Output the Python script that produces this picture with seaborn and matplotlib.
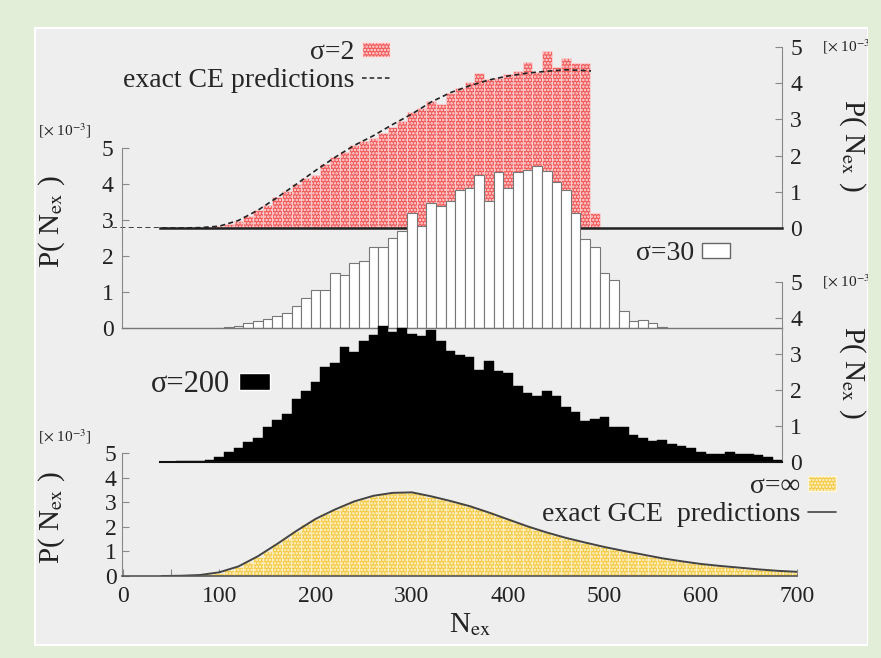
import matplotlib
matplotlib.use("Agg")
import matplotlib.pyplot as plt
import seaborn as sns
from matplotlib.patches import Patch, Rectangle
from matplotlib.lines import Line2D

# P(N_ex) in units of 1e-3, histogram bins of width 10 (bin centres)
red_n = list(range(40, 500, 10))
red_p = [0.0, 0.0, 0.0, 0.01, 0.01, 0.03, 0.06, 0.11, 0.2, 0.33,
         0.5, 0.64, 0.85, 1.02, 1.22, 1.38, 1.47, 1.78, 1.95, 2.1,
         2.3, 2.4, 2.5, 2.62, 2.8, 2.95, 3.2, 3.32, 3.5, 3.42,
         3.73, 3.86, 4.04, 4.27, 4.12, 4.15, 4.25, 4.34, 4.59, 4.3,
         4.9, 4.44, 4.69, 4.56, 4.56, 0.41]
ce_n = [-20, 40, 60, 80, 100, 120, 140, 160, 180, 200, 220, 240, 260, 280,
        300, 320, 340, 360, 380, 400, 420, 440, 460, 480, 486]
ce_p = [0.0, 0.0, 0.0, 0.01, 0.05, 0.21, 0.49, 0.84, 1.21, 1.59, 1.95, 2.28, 2.55, 2.86,
        3.15, 3.48, 3.74, 3.93, 4.09, 4.2, 4.28, 4.33, 4.37, 4.35, 4.34]

white_n = list(range(100, 570, 10))
white_p = [0.01, 0.02, 0.05,
           0.15, 0.2, 0.25, 0.34, 0.41, 0.62, 0.84, 1.05, 1.05, 1.54,
           1.47, 1.8, 1.87, 2.26, 2.24, 2.51, 2.69, 3.2, 2.83, 3.48,
           3.39, 3.54, 3.83, 3.9, 4.25, 3.54, 4.32, 3.9, 4.32, 4.39,
           4.5, 4.37, 4.05, 3.83, 3.19, 2.46, 2.24, 1.54, 1.33, 0.48,
           0.2, 0.22, 0.14, 0.03]

black_n = list(range(40, 690, 10))
black_p = [0.005, 0.01, 0.015, 0.02, 0.04, 0.05, 0.13, 0.27, 0.38, 0.56,
           0.66, 0.98, 1.17, 1.33, 1.75, 1.97, 2.23, 2.65, 2.74, 3.19,
           3.05, 3.37, 3.53, 3.78, 3.62, 3.71, 3.56, 3.5, 3.67, 3.37,
           3.09, 2.97, 2.93, 2.56, 2.81, 2.54, 2.46, 2.11, 1.91, 1.83,
           1.98, 1.83, 1.52, 1.4, 1.15, 1.19, 1.26, 0.96, 0.96, 0.75,
           0.66, 0.58, 0.61, 0.5, 0.44, 0.38, 0.29, 0.22, 0.22, 0.29,
           0.21, 0.21, 0.19, 0.13, 0.06]

yellow_n = list(range(40, 710, 10))
yellow_p = [0.0, 0.0, 0.01, 0.02, 0.04, 0.07, 0.14, 0.25, 0.38, 0.55,
            0.79, 1.03, 1.29, 1.55, 1.83, 2.1, 2.31, 2.51, 2.7, 2.87,
            3.03, 3.15, 3.26, 3.33, 3.37, 3.4, 3.4, 3.32, 3.23, 3.14,
            3.05, 2.95, 2.84, 2.73, 2.59, 2.44, 2.3, 2.16, 2.02, 1.88,
            1.77, 1.66, 1.55, 1.45, 1.35, 1.27, 1.18, 1.1, 1.02, 0.94,
            0.86, 0.79, 0.72, 0.66, 0.6, 0.54, 0.49, 0.45, 0.41, 0.38,
            0.34, 0.3, 0.27, 0.24, 0.21, 0.19, 0.17]
gce_n = [40, 60, 80, 100, 120, 140, 160, 180, 200, 220, 240, 260, 280, 300,
         320, 340, 360, 380, 400, 420, 440, 460, 480, 500, 520, 540, 560,
         580, 600, 620, 640, 660, 680, 700]
gce_p = [0.0, 0.01, 0.04, 0.15, 0.39, 0.8, 1.3, 1.83, 2.32, 2.7, 3.03, 3.26, 3.38, 3.4,
         3.24, 3.05, 2.84, 2.58, 2.3, 2.02, 1.77, 1.55, 1.36, 1.18, 1.02, 0.87, 0.72,
         0.6, 0.49, 0.41, 0.34, 0.27, 0.21, 0.17]

RED, YELLOW, GREEN, PANEL = "#f25a5a", "#f5cb45", "#e3eed8", "#eeeeee"
TXT = "#222222"

sns.set_style("ticks")
plt.rcParams["font.family"] = ["Liberation Serif", "DejaVu Serif"]
plt.rcParams["mathtext.fontset"] = "stix"
plt.rcParams["hatch.linewidth"] = 1.2

W, H = 881, 658
X0, K = 123, 0.963  # pixel of N=0, pixels per unit of N

fig = plt.figure(figsize=(W / 100, H / 100), dpi=100)
fig.patch.set_facecolor(GREEN)
fig.add_artist(Rectangle((35 / W, 1 - 645 / H), 833 / W, 617 / H, transform=fig.transFigure,
                         facecolor=PANEL, edgecolor="white", lw=1.5, zorder=-5))


def edges(centres):
    return [c - 5 for c in centres] + [centres[-1] + 5]


def panel(left, top, right, bottom, z):
    ax = fig.add_axes([left / W, 1 - bottom / H, (right - left) / W, (bottom - top) / H])
    ax.set_facecolor("none")
    ax.set_zorder(z)
    return ax


def finish(ax, left, right, side=None, base="#777777", base_lw=1.0, xb=None):
    ax.set_xlim((left - X0) / K, (right - X0) / K)
    ax.set_ylim(0, 5)
    ax.set_xlabel("")
    ax.set_ylabel("")
    for s in ax.spines.values():
        s.set_visible(False)
    ax.spines["bottom"].set_visible(True)
    ax.spines["bottom"].set_color(base)
    ax.spines["bottom"].set_linewidth(base_lw)
    if xb is not None:
        ax.spines["bottom"].set_bounds(*xb)
    ax.set_xticks([])
    if side is None:
        ax.set_yticks([])
        return
    ax.spines[side].set_visible(True)
    ax.spines[side].set_color("#888888")
    ax.spines[side].set_linewidth(0.8)
    ax.set_yticks(range(6))
    if side == "right":
        ax.yaxis.tick_right()
    else:
        ax.yaxis.tick_left()
    ax.tick_params(axis="y", direction="in", length=5, width=0.8, color="#888888",
                   labelsize=17, pad=6, labelcolor=TXT)


# sigma = 2 (red) with exact CE curve
ax1 = panel(100, 47, 782, 228, 1)
sns.histplot(x=red_n, weights=red_p, bins=edges(red_n), ax=ax1, color=RED,
             edgecolor="#ffe4e4", linewidth=0.4, hatch=".....", alpha=1)
sns.lineplot(x=ce_n, y=ce_p, ax=ax1, color="#222222", linestyle=(0, (3, 2)), linewidth=1.2)
finish(ax1, 100, 782, "right", base="#222222", base_lw=1.8, xb=((160 - X0) / K, (782 - X0) / K))

# sigma = 30 (white)
ax2 = panel(122, 148, 782, 328, 2)
sns.histplot(x=white_n, weights=white_p, bins=edges(white_n), ax=ax2, color="white",
             edgecolor="#777777", linewidth=0.8, alpha=1)
finish(ax2, 122, 782, "left")

# sigma = 200 (black)
ax3 = panel(160, 282, 782, 462, 3)
sns.histplot(x=black_n, weights=black_p, bins=edges(black_n), ax=ax3, color="black",
             edgecolor="black", linewidth=0.3, alpha=1)
finish(ax3, 160, 782, "right", base="#111111", base_lw=1.5)

# sigma = infinity (yellow) with exact GCE curve
ax4 = panel(122, 453, 797, 576, 4)
sns.histplot(x=yellow_n, weights=yellow_p, bins=edges(yellow_n), ax=ax4, color=YELLOW,
             edgecolor="#fff6dc", linewidth=0.4, hatch=".....", alpha=1)
sns.lineplot(x=gce_n, y=gce_p, ax=ax4, color="#444444", linewidth=1.4)
finish(ax4, 122, 797, "left", base="#555555", base_lw=1.2)
ax4.set_xlim(-1, 700)
ax4.set_xticks(range(0, 701, 100))
ax4.set_xticks(range(50, 700, 100), minor=True)
ax4.tick_params(axis="x", which="both", direction="in", length=5, width=0.8, color="#888888",
                labelsize=17, pad=7, labelcolor=TXT)
ax4.tick_params(axis="y", pad=4)

# legends (text first, sample after)
leg_kw = dict(frameon=False, markerfirst=False, fontsize=20, handlelength=1.0,
              handleheight=0.45, handletextpad=0.3, labelspacing=0.1,
              borderpad=0, borderaxespad=0, bbox_transform=fig.transFigure)
l1 = ax1.legend([Patch(facecolor=RED, edgecolor="#ffe4e4", hatch="....."),
                 Line2D([], [], color="#222222", ls=(0, (3, 2)), lw=1.1)],
                ["σ=2", "exact CE predictions"], loc="upper right",
                bbox_to_anchor=(390 / W, 1 - 40 / H), **leg_kw)
l2 = ax2.legend([Patch(facecolor="white", edgecolor="#666666")], ["σ=30"],
                loc="center right", bbox_to_anchor=(730 / W, 1 - 254 / H), **leg_kw)
l3 = ax3.legend([Patch(facecolor="black")], ["σ=200"],
                loc="center right", bbox_to_anchor=(270 / W, 1 - 385 / H),
                **{**leg_kw, "fontsize": 22})
l4 = ax4.legend([Patch(facecolor=YELLOW, edgecolor="#fff6dc", hatch="....."),
                 Line2D([], [], color="#444444", lw=1.2)],
                ["σ=∞", "exact GCE  predictions"], loc="upper right",
                bbox_to_anchor=(836 / W, 1 - 474 / H), **leg_kw)

# axis titles and scale notes
ylab = r"P( N$_{\mathrm{ex}}$ )"
fig.text(52 / W, 1 - 222 / H, ylab, rotation=90, ha="center", va="center", fontsize=21, color=TXT)
fig.text(52 / W, 1 - 518 / H, ylab, rotation=90, ha="center", va="center", fontsize=21, color=TXT)
fig.text(852 / W, 1 - 145 / H, ylab, rotation=-90, ha="center", va="center", fontsize=21, color=TXT)
fig.text(852 / W, 1 - 372 / H, ylab, rotation=-90, ha="center", va="center", fontsize=21, color=TXT)
note = r"[$\times$ 10$^{-3}$]"
fig.text(38 / W, 1 - 131 / H, note, ha="left", va="center", fontsize=11, color=TXT)
fig.text(38 / W, 1 - 437 / H, note, ha="left", va="center", fontsize=11, color=TXT)
fig.text(822 / W, 1 - 47 / H, note, ha="left", va="center", fontsize=11, color=TXT)
fig.text(822 / W, 1 - 282 / H, note, ha="left", va="center", fontsize=11, color=TXT)
fig.text(470 / W, 1 - 625 / H, r"N$_{\mathrm{ex}}$", ha="center", va="center", fontsize=21, color=TXT)

# outer border clips the right-hand notes
fig.add_artist(Rectangle((868 / W, 0), 13 / W, 1, transform=fig.transFigure,
                         facecolor=GREEN, edgecolor="none", zorder=20))

fig.savefig("out.png", dpi=100, facecolor=fig.get_facecolor())
